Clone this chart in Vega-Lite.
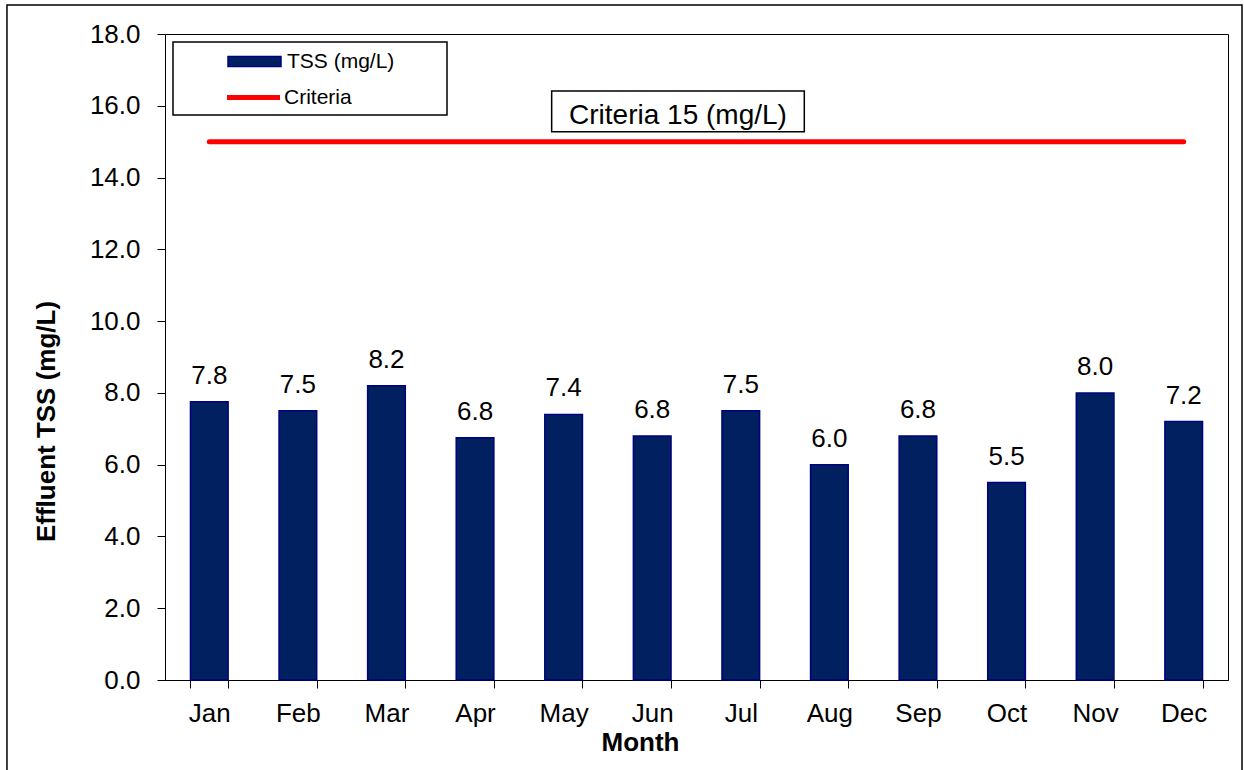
{
  "$schema": "https://vega.github.io/schema/vega-lite/v6.json",
  "width": 1063,
  "height": 646,
  "autosize": "none",
  "padding": {"left": 165, "top": 34, "right": 16, "bottom": 90},
  "background": "white",
  "config": {
    "font": "Liberation Sans",
    "view": {"stroke": "#000", "strokeWidth": 1},
    "axis": {
      "grid": false,
      "domainColor": "#000",
      "tickColor": "#000",
      "labelColor": "#000",
      "titleColor": "#000",
      "labelFont": "Liberation Sans",
      "titleFont": "Liberation Sans",
      "labelFontSize": 26,
      "titleFontSize": 26,
      "titleFontWeight": "bold",
      "tickSize": 8,
      "domainWidth": 1,
      "tickWidth": 1
    },
    "legend": {
      "labelFont": "Liberation Sans",
      "labelFontSize": 21,
      "labelColor": "#000",
      "labelLimit": 400,
      "padding": 0
    }
  },
  "resolve": {"scale": {"x": "independent"}},
  "layer": [
    {
      "data": {
        "values": [
          {"month": "Jan", "tss": 7.75, "criteria": 15},
          {"month": "Feb", "tss": 7.5, "criteria": 15},
          {"month": "Mar", "tss": 8.2, "criteria": 15},
          {"month": "Apr", "tss": 6.75, "criteria": 15},
          {"month": "May", "tss": 7.4, "criteria": 15},
          {"month": "Jun", "tss": 6.8, "criteria": 15},
          {"month": "Jul", "tss": 7.5, "criteria": 15},
          {"month": "Aug", "tss": 6.0, "criteria": 15},
          {"month": "Sep", "tss": 6.8, "criteria": 15},
          {"month": "Oct", "tss": 5.5, "criteria": 15},
          {"month": "Nov", "tss": 8.0, "criteria": 15},
          {"month": "Dec", "tss": 7.2, "criteria": 15}
        ]
      },
      "encoding": {
        "x": {
          "field": "month",
          "type": "nominal",
          "sort": null,
          "scale": {"paddingInner": 0.575, "paddingOuter": 0.2875},
          "axis": {
            "title": "Month",
            "labelAngle": 0,
            "tickBand": "extent",
            "labelPadding": 12,
            "titleX": 475,
            "titleY": 70,
            "titleBaseline": "alphabetic",
            "titleAlign": "center"
          }
        }
      },
      "layer": [
        {
          "mark": {"type": "bar", "stroke": "#000080", "strokeWidth": 1.5},
          "encoding": {
            "y": {
              "field": "tss",
              "type": "quantitative",
              "scale": {"domain": [0, 18], "nice": false},
              "axis": {
                "title": "Effluent TSS (mg/L)",
                "values": [0, 2, 4, 6, 8, 10, 12, 14, 16, 18],
                "format": ".1f",
                "labelPadding": 17,
                "titleAngle": -90,
                "titleX": -119,
                "titleY": 387,
                "titleBaseline": "middle",
                "titleAlign": "center"
              }
            },
            "fill": {
              "datum": "TSS (mg/L)",
              "type": "nominal",
              "scale": {"domain": ["TSS (mg/L)"], "range": ["#002060"]},
              "legend": {
                "orient": "none",
                "legendX": 78.5,
                "legendY": 16.5,
                "title": null,
                "symbolSize": 400,
                "symbolOffset": 0,
                "symbolType": "M-2.65,-0.5L2.65,-0.5L2.65,0.5L-2.65,0.5Z",
                "symbolStrokeColor": "#000080",
                "symbolStrokeWidth": 1.5,
                "symbolOpacity": 1,
                "labelOffset": 21.5
              }
            }
          }
        },
        {
          "mark": {"type": "text", "fontSize": 26, "baseline": "alphabetic", "align": "center", "dy": -18, "color": "#000"},
          "encoding": {
            "y": {"field": "tss", "type": "quantitative", "title": "Effluent TSS (mg/L)"},
            "text": {"field": "tss", "type": "quantitative", "format": ".1f"}
          }
        },
        {
          "mark": {"type": "line", "strokeWidth": 5, "strokeCap": "round"},
          "encoding": {
            "y": {"field": "criteria", "type": "quantitative", "title": "Effluent TSS (mg/L)"},
            "stroke": {
              "datum": "Criteria",
              "type": "nominal",
              "scale": {"domain": ["Criteria"], "range": ["#ff0000"]},
              "legend": {
                "orient": "none",
                "legendX": 59.5,
                "legendY": 34.5,
                "title": null,
                "symbolType": "stroke",
                "symbolSize": 2809,
                "symbolOffset": 0,
                "symbolStrokeWidth": 5,
                "symbolStrokeColor": "#ff0000",
                "symbolOpacity": 1,
                "labelOffset": 1.5
              }
            }
          }
        }
      ]
    },
    {
      "data": {"values": [{"note": "Criteria 15 (mg/L)"}]},
      "layer": [
        {
          "mark": {"type": "rect", "fill": null, "stroke": "#000", "strokeWidth": 1.5},
          "encoding": {
            "x": {"datum": -1.784, "type": "quantitative", "scale": {"domain": [0, 12], "nice": false}, "axis": null},
            "x2": {"datum": 12.158},
            "y": {"datum": 18.808, "type": "quantitative"},
            "y2": {"datum": -3}
          }
        },
        {
          "mark": {"type": "rect", "fill": "#fff", "stroke": "#000", "strokeWidth": 1.5},
          "encoding": {
            "x": {"datum": 0.0903, "type": "quantitative"},
            "x2": {"datum": 3.1834},
            "y": {"datum": 17.777, "type": "quantitative"},
            "y2": {"datum": 15.743}
          }
        },
        {
          "mark": {"type": "rect", "fill": "#fff", "stroke": "#000", "strokeWidth": 1.5},
          "encoding": {
            "x": {"datum": 4.365, "type": "quantitative"},
            "x2": {"datum": 7.217},
            "y": {"datum": 16.412, "type": "quantitative"},
            "y2": {"datum": 15.278}
          }
        },
        {
          "mark": {"type": "text", "fontSize": 28, "baseline": "alphabetic", "align": "center", "color": "#000"},
          "encoding": {
            "x": {"datum": 5.791, "type": "quantitative"},
            "y": {"datum": 15.49, "type": "quantitative"},
            "text": {"field": "note"}
          }
        }
      ]
    }
  ]
}
